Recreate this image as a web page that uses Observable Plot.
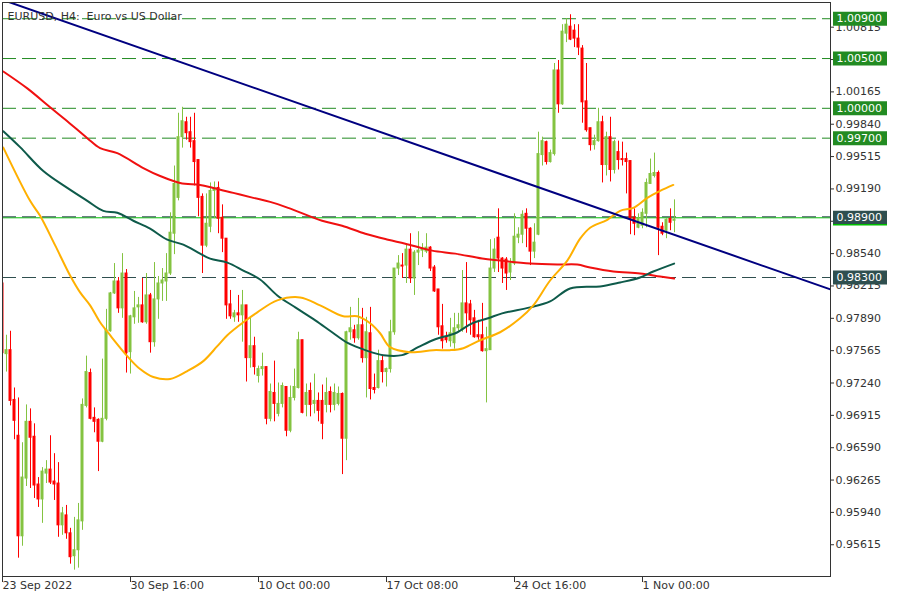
<!DOCTYPE html>
<html><head><meta charset="utf-8">
<script src="https://cdn.jsdelivr.net/npm/d3@7"></script>
<script src="https://cdn.jsdelivr.net/npm/@observablehq/plot@0.6"></script>
<style>body{margin:0;background:#fff;} svg{display:block}</style>
</head><body><div id="chart"></div>
<script>
// ---- candle data (H4 bars, index 0 = 23 Sep 2022 08:00) ----
const open = [.9824,.9753,.9757,.9707,.9671,.9570,.9628,.9685,.9670,.9622,.9607,.9633,.9637,.9625,.9623,.9581,.9591,.9573,.9550,.9556,
.9585,.9701,.9734,.9689,.9687,.9665,.9688,.9776,.9814,.9826,.9799,.9834,.9755,.9790,.9800,.9802,.9785,.9812,.9765,.9808,
.9824,.9826,.9834,.9874,.9910,.9971,.9986,.9976,.9967,.9948,.9911,.9862,.9881,.9917,.9920,.9890,.9869,.9803,.9790,.9794,
.9792,.9802,.9749,.9761,.9731,.9738,.9740,.9688,.9714,.9693,.9703,.9720,.9676,.9709,.9719,.9767,.9702,.9716,.9703,.9706,
.9706,.9702,.9715,.9702,.9703,.9713,.9668,.9775,.9777,.9769,.9782,.9749,.9774,.9719,.9719,.9746,.9735,.9738,.9775,.9839,
.9842,.9842,.9858,.9829,.9855,.9857,.9856,.9860,.9840,.9818,.9781,.9770,.9766,.9764,.9779,.9778,.9804,.9803,.9789,.9772,
.9772,.9756,.9757,.9839,.9870,.9849,.9848,.9835,.9844,.9870,.9873,.9894,.9879,.9856,.9873,.9953,.9966,.9946,.9954,1.0038,
1.0004,1.0075,1.0082,1.0078,1.0070,1.0060,1.0007,.9980,.9963,.9967,.9986,.9943,.9971,.9938,.9956,.9949,.9949,.9947,.9890,.9880,
.9882,.9894,.9924,.9932,.9935,.9881,.9877,.9889,.9887];
const high = [.9825,.9772,.9776,.9719,.9709,.9664,.9702,.9698,.9683,.9629,.9639,.9646,.9671,.9653,.9644,.9599,.9601,.9578,.9589,.9603,
.9708,.9751,.9738,.9699,.9688,.9748,.9798,.9815,.9844,.9830,.9854,.9838,.9792,.9816,.9810,.9829,.9834,.9814,.9845,.9831,
.9839,.9854,.9895,.9942,.9995,1.0001,.9991,.9991,.9995,.9948,.9914,.9914,.9925,.9926,.9926,.9903,.9869,.9817,.9797,.9812,
.9817,.9802,.9789,.9770,.9741,.9754,.9740,.9723,.9746,.9724,.9724,.9720,.9721,.9738,.9775,.9767,.9723,.9724,.9733,.9714,
.9722,.9729,.9720,.9723,.9720,.9714,.9776,.9800,.9782,.9809,.9799,.9790,.9800,.9733,.9757,.9751,.9739,.9787,.9839,.9852,
.9854,.9864,.9874,.9857,.9876,.9864,.9874,.9861,.9842,.9818,.9803,.9775,.9789,.9794,.9794,.9837,.9845,.9807,.9797,.9787,
.9804,.9780,.9868,.9869,.9899,.9850,.9850,.9849,.9894,.9880,.9897,.9899,.9880,.9884,.9976,.9971,.9967,.9958,1.0045,1.0048,
1.0084,1.0090,1.0094,1.0084,1.0084,1.0063,1.0045,.9980,.9973,1.0000,.9992,.9976,.9991,.9968,.9967,.9966,.9955,.9947,.9899,.9894,
.9899,.9929,.9949,.9955,.9937,.9885,.9889,.9899,.9908];
const low = [.9752,.9735,.9701,.9667,.9548,.9560,.9620,.9618,.9608,.9599,.9583,.9623,.9622,.9606,.9569,.9571,.9567,.9542,.9536,.9538,
.9576,.9699,.9687,.9674,.9635,.9664,.9686,.9775,.9813,.9794,.9789,.9734,.9733,.9783,.9784,.9784,.9783,.9754,.9760,.9788,
.9806,.9806,.9832,.9853,.9907,.9960,.9968,.9960,.9922,.9891,.9834,.9860,.9875,.9889,.9874,.9855,.9788,.9788,.9785,.9785,
.9765,.9725,.9739,.9732,.9724,.9731,.9682,.9685,.9685,.9690,.9699,.9670,.9674,.9706,.9718,.9693,.9690,.9690,.9693,.9685,
.9667,.9694,.9694,.9696,.9701,.9632,.9646,.9767,.9764,.9767,.9744,.9709,.9707,.9713,.9718,.9724,.9720,.9734,.9772,.9832,
.9829,.9824,.9824,.9812,.9842,.9850,.9854,.9836,.9815,.9772,.9758,.9764,.9760,.9758,.9775,.9775,.9774,.9772,.9769,.9767,
.9755,.9704,.9757,.9835,.9835,.9824,.9817,.9827,.9842,.9864,.9864,.9860,.9842,.9849,.9872,.9942,.9943,.9945,.9952,.9995,
1.0003,1.0066,1.0068,1.0061,1.0053,.9985,.9976,.9957,.9958,.9966,.9925,.9932,.9926,.9934,.9938,.9942,.9914,.9873,.9872,.9879,
.9879,.9880,.9924,.9930,.9852,.9872,.9869,.9877,.9875];
const close = [.9754,.9757,.9706,.9686,.9570,.9629,.9685,.9669,.9621,.9607,.9635,.9637,.9624,.9622,.9581,.9593,.9573,.9549,.9556,.9586,
.9702,.9735,.9688,.9685,.9665,.9688,.9777,.9814,.9826,.9799,.9834,.9754,.9791,.9799,.9802,.9785,.9812,.9765,.9808,.9824,
.9827,.9834,.9875,.9924,.9971,.9987,.9975,.9966,.9946,.9910,.9862,.9884,.9917,.9920,.9889,.9869,.9802,.9791,.9794,.9792,
.9802,.9749,.9761,.9740,.9738,.9740,.9688,.9715,.9703,.9703,.9721,.9676,.9709,.9720,.9767,.9694,.9714,.9702,.9706,.9696,
.9683,.9714,.9702,.9714,.9713,.9668,.9775,.9779,.9769,.9782,.9749,.9775,.9718,.9717,.9746,.9735,.9738,.9775,.9839,.9844,
.9841,.9858,.9829,.9855,.9857,.9859,.9860,.9839,.9816,.9780,.9766,.9767,.9774,.9779,.9782,.9804,.9794,.9787,.9770,.9770,
.9756,.9758,.9839,.9858,.9849,.9839,.9834,.9844,.9871,.9873,.9893,.9879,.9856,.9865,.9954,.9967,.9946,.9955,1.0038,1.0004,
1.0077,1.0084,1.0069,1.0070,1.0061,1.0006,.9978,.9963,.9967,.9986,.9943,.9971,.9938,.9966,.9948,.9948,.9946,.9889,.9884,.9889,
.9895,.9925,.9934,.9935,.9880,.9874,.9888,.9885,.9888];

// ---- moving averages (bar index, price) ----
const maFastIdx = [0.2,6.9,9.4,13.2,16.9,19.4,21.9,24.4,26.9,31.2,34.4,37.7,41.9,46.2,50.2,53.7,56.2,60.2,63.7,68.7,74.4,79.4,85.2,88.7,91.9,94.4,96.9,101.9,107.7,111.9,115.2,119.4,124.4,129.4,132.7,136.9,141.2,144.4,146.9,151.2,154.4,157.7,161.2,164.4,167.7];
const maFastVal = [.99605,.9907,.9892,.9862,.9832,.9815,.9802,.9785,.9772,.9751,.9738,.9730,.9728,.9736,.9746,.9761,.9772,.9785,.9795,.9807,.9810,.9802,.9791,.9791,.9784,.9774,.9760,.9755,.9757,.9757,.9759,.9767,.9775,.9789,.9802,.9827,.9847,.9869,.9880,.9888,.9897,.9900,.9910,.9917,.9923];
const maMidIdx = [0.2,4.4,10.2,16.2,21.2,25.2,28.7,32.7,36.9,41.2,45.2,49.4,51.9,56.2,60.2,64.4,68.7,73.2,78.2,82.4,86.4,90.7,95.2,99.9,103.9,108.2,113.2,117.4,121.4,124.9,131.9,136.9,141.9,149.4,154.4,159.4,162.7,167.9];
const maMidVal = [.9977,.9961,.9937,.9920,.9907,.9897,.9895,.9887,.9879,.9868,.9863,.9854,.9849,.9845,.9837,.9828,.9812,.9800,.9787,.9775,.9764,.9757,.9752,.9752,.9760,.9768,.9774,.9784,.9789,.9794,.9800,.9806,.9819,.9821,.9825,.9830,.9836,.9844];
const maSlowIdx = [0.2,6.2,11.9,16.2,21.2,24.4,28.7,35.2,39.4,44.4,49.4,52.7,57.7,62.7,66.9,71.4,79.9,84.9,90.7,96.4,100.7,107.4,113.2,119.9,124.4,131.9,138.7,143.7,146.9,152.7,159.4,164.4,167.9];
const maSlowVal = [1.0037,1.0020,1.0001,.9987,.9970,.9960,.9955,.9940,.9932,.9925,.9923,.9920,.9915,.9910,.9906,.9900,.9887,.9882,.9874,.9868,.9864,.9857,.9854,.9849,.9847,.9844,.9843,.9843,.9840,.9836,.9834,.9831,.9829];

// ---- trend line anchors ----
const trendIdx = [0, 207];
const trendVal = [1.0109, 0.9818];

// ---- levels & ticks ----
const levelsGreen = [1.009, 1.005, 1.000, 0.997];
const levelMain = [0.989];
const levelDark = [0.983];
const yTicks = [0.95615,0.95940,0.96265,0.96590,0.96915,0.97240,0.97565,0.97890,0.98215,0.98540,0.98865,0.99190,0.99515,0.99840,1.00165,1.00490,1.00815];
const yTicksHidden = [0.98865, 1.00490]; // fully covered by level labels in the reference
const xTickIdx = [0,32,64,96,128,160];
const xTickLabels = ["23 Sep 2022","30 Sep 16:00","10 Oct 00:00","17 Oct 08:00","24 Oct 16:00","1 Nov 00:00"];
const title = "EURUSD, H4:\u00a0 Euro vs US Dollar";

// ---- build ----
const candles = open.map((o, i) => ({i, o, h: high[i], l: low[i], c: close[i]}));
const up = candles.filter(d => d.c >= d.o);
const dn = candles.filter(d => d.c < d.o);
const mk = (xs, ys) => xs.map((x, k) => ({x, y: ys[k]}));
const fast = mk(maFastIdx, maFastVal), mid = mk(maMidIdx, maMidVal), slow = mk(maSlowIdx, maSlowVal);
const trend = mk(trendIdx, trendVal);
const yTickText = yTicks.filter(t => !yTicksHidden.includes(t));

const yDomain = [0.95296, 1.01063];
const pxPerUnit = (576 - 2) / (yDomain[1] - yDomain[0]);
const GREEN = "#84c341", RED = "#ff0000";
const axisCol = "#333";

const chart = Plot.plot({
  width: 900, height: 600,
  marginLeft: 2, marginRight: 70, marginTop: 2, marginBottom: 24,
  style: {fontFamily: "DejaVu Sans", fontSize: "11px", background: "#fff"},
  x: {domain: [0, 207], axis: null},
  y: {domain: yDomain, axis: null},
  marks: [
    // levels
    Plot.ruleY(levelsGreen, {y: d => d, stroke: "#228b22", strokeDasharray: "14,6"}),
    Plot.ruleY(levelMain, {y: d => d, stroke: "#00c000", strokeWidth: 1}),
    Plot.ruleY(levelMain, {y: d => d, stroke: "#2f4f4f", strokeDasharray: "14,6", dy: -1}),
    Plot.ruleY(levelDark, {y: d => d, stroke: "#2f4f4f", strokeDasharray: "14,6"}),
    // candles
    Plot.ruleX(up, {x: "i", y1: "l", y2: "h", stroke: GREEN, clip: true}),
    Plot.ruleX(dn, {x: "i", y1: "l", y2: "h", stroke: RED, clip: true}),
    Plot.rect(up, {x1: d => d.i - 0.375, x2: d => d.i + 0.375, y1: "o", y2: "c", fill: GREEN, insetTop: -0.5, insetBottom: -0.5, clip: true}),
    Plot.rect(dn, {x1: d => d.i - 0.375, x2: d => d.i + 0.375, y1: "o", y2: "c", fill: RED, insetTop: -0.5, insetBottom: -0.5, clip: true}),
    // moving averages
    Plot.line(slow, {x: "x", y: "y", stroke: "#f01010", strokeWidth: 2, curve: "catmull-rom", clip: true}),
    Plot.line(mid, {x: "x", y: "y", stroke: "#0e5a4a", strokeWidth: 2, curve: "catmull-rom", clip: true}),
    Plot.line(fast, {x: "x", y: "y", stroke: "#ffb000", strokeWidth: 2, curve: "catmull-rom", clip: true}),
    // trend line
    Plot.line(trend, {x: "x", y: "y", stroke: "#000080", strokeWidth: 2, clip: true}),
    // frame
    Plot.frame({stroke: axisCol}),
    // y axis
    Plot.ruleY(yTicks, {y: d => d, x1: 207, x2: 208, stroke: axisCol}),
    Plot.text(yTickText, {y: d => d, x: 207, dx: 5, text: d => d.toFixed(5), textAnchor: "start", fill: axisCol, fontSize: 11}),
    // x axis
    Plot.ruleX(xTickIdx, {x: d => d, y1: yDomain[0], y2: yDomain[0] - 6 / pxPerUnit, stroke: axisCol}),
    Plot.text(xTickIdx, {x: d => d, frameAnchor: "bottom", dy: 12, text: (d, k) => xTickLabels[k], textAnchor: "start", fill: axisCol, fontSize: 11}),
    // level labels
    Plot.ruleY(levelsGreen, {y: d => d, x1: 207.75, x2: 221.25, stroke: "#228b22", strokeWidth: 14}),
    Plot.ruleY(levelMain.concat(levelDark), {y: d => d, x1: 207.75, x2: 221.25, stroke: "#2f4f4f", strokeWidth: 14}),
    Plot.ruleY(levelMain, {y: d => d, x1: 207.75, x2: 221.25, stroke: "#00c000", strokeWidth: 1.5, dy: 7}),
    Plot.text(levelsGreen.concat(levelMain, levelDark), {y: d => d, x: 207.75, dx: 3, text: d => d.toFixed(5), textAnchor: "start", fill: "#fff", fontSize: 11}),
    // title
    Plot.text([title], {frameAnchor: "top-left", dx: 5, dy: 10, text: d => d, textAnchor: "start", fill: axisCol, fontSize: 11})
  ]
});
document.getElementById("chart").appendChild(chart);
</script>
</body></html>
